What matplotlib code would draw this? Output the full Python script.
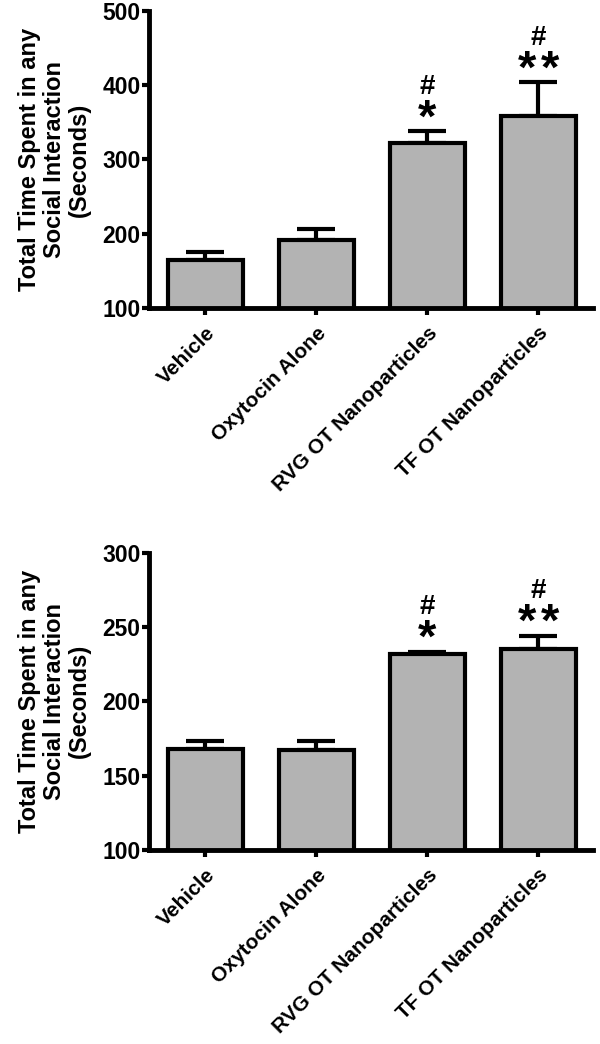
#!/usr/bin/env python3
# Social interaction time, two panels of bar charts with one-sided SEM bars.

import matplotlib
matplotlib.use('Agg')
import matplotlib.pyplot as plt
import numpy as np

groups = ['Vehicle', 'Oxytocin Alone', 'RVG OT Nanoparticles', 'TF OT Nanoparticles']

top_means = [164, 191, 322, 359]
top_errs = [12, 16, 16, 45]

bottom_means = [168, 167, 232, 235]
bottom_errs = [5, 6, 1.5, 9]

stars = ['', '', '*', '**']
hashes = ['', '', '#', '#']

ylabel = 'Total Time Spent in any\nSocial Interaction\n(Seconds)'

plt.rcParams['font.family'] = ['Liberation Sans', 'DejaVu Sans']
plt.rcParams['font.weight'] = 'bold'


def draw_panel(ax, means, errs, ylim, yticks):
    x = np.arange(len(groups))
    lower = np.zeros(len(errs))
    ax.bar(x, means, width=0.68, color='#b3b3b3', edgecolor='black',
           linewidth=3, zorder=2,
           yerr=[lower, errs], capsize=14,
           error_kw=dict(elinewidth=3, capthick=3, ecolor='black', zorder=1))
    for i in range(len(groups)):
        top = means[i] + errs[i]
        n = len(stars[i])
        # each star drawn on its own so there is a small gap between them
        for k in range(n):
            dx = (k - (n - 1) / 2) * 16.5
            ax.annotate('*', xy=(i, top), xytext=(dx, 0),
                        textcoords='offset points', ha='center', va='baseline',
                        fontsize=34, fontweight='bold')
        if hashes[i]:
            ax.annotate(hashes[i], xy=(i, top), xytext=(0, 27),
                        textcoords='offset points', ha='center', va='baseline',
                        fontsize=20, fontweight='bold')

    ax.set_xlim(-0.51, 3.49)
    ax.set_ylim(*ylim)
    ax.set_yticks(yticks)
    ax.set_xticks(x)
    ax.set_xticklabels(groups, rotation=45, ha='right', rotation_mode='anchor',
                       fontsize=15, fontweight='bold')
    ax.tick_params(axis='y', labelsize=16.5, width=3, length=5, direction='out', pad=1)
    ax.tick_params(axis='x', width=3, length=5, direction='out', pad=6)
    for lbl in ax.get_yticklabels():
        lbl.set_fontweight('bold')
    ax.spines['top'].set_visible(False)
    ax.spines['right'].set_visible(False)
    ax.spines['left'].set_linewidth(3.5)
    ax.spines['bottom'].set_linewidth(3.5)
    ax.set_ylabel(ylabel, fontsize=17, fontweight='bold', labelpad=8,
                  linespacing=1.1)


fig = plt.figure(figsize=(6, 10.44), dpi=100)
ax1 = fig.add_axes([0.248, 0.705, 0.74, 0.2845])
ax2 = fig.add_axes([0.248, 0.1858, 0.74, 0.2848])

draw_panel(ax1, top_means, top_errs, (100, 500), [100, 200, 300, 400, 500])
draw_panel(ax2, bottom_means, bottom_errs, (100, 300), [100, 150, 200, 250, 300])

fig.savefig('out.png', dpi=100)
